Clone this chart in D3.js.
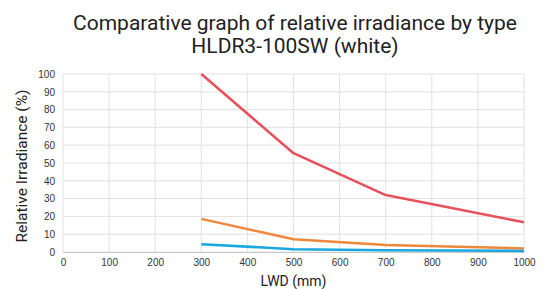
<!DOCTYPE html>
<html>
<head>
<meta charset="utf-8">
<script src="https://cdn.jsdelivr.net/npm/d3@7"></script>
<style>
  body { margin: 0; background: #fff; }
  svg { display: block; font-family: Roboto, "Noto Sans", sans-serif; }
</style>
</head>
<body>
<div id="chart"></div>
<script>
// data
const lwd = [300, 500, 700, 1000];
const seriesRed = [100, 55.5, 32, 16.7];
const seriesOrange = [18.6, 7.2, 3.9, 2.0];
const seriesBlue = [4.4, 1.6, 1.0, 0.6];
const xTicks = [0, 100, 200, 300, 400, 500, 600, 700, 800, 900, 1000];
const yTicks = [0, 10, 20, 30, 40, 50, 60, 70, 80, 90, 100];

const series = [
  { values: seriesOrange, color: "#f0883c" },
  { values: seriesBlue, color: "#19a7e0" },
  { values: seriesRed, color: "#e8505b" },
];

const width = 552, height = 289;
const margin = { left: 63, right: 28, top: 74, bottom: 37 };

const svg = d3.select("#chart").append("svg")
  .attr("width", width)
  .attr("height", height);

const x = d3.scaleLinear().domain([0, 1000]).range([margin.left, width - margin.right]);
const y = d3.scaleLinear().domain([0, 100]).range([height - margin.bottom, margin.top]);

// 网格线
svg.append("g")
  .selectAll("line.v")
  .data(xTicks)
  .enter().append("line")
  .attr("x1", d => x(d)).attr("x2", d => x(d))
  .attr("y1", y(0)).attr("y2", y(100))
  .attr("stroke", "#e2e2e2").attr("stroke-width", 1);

svg.append("g")
  .selectAll("line.h")
  .data(yTicks)
  .enter().append("line")
  .attr("x1", x(0)).attr("x2", x(1000))
  .attr("y1", d => y(d)).attr("y2", d => y(d))
  .attr("stroke", "#e2e2e2").attr("stroke-width", 1);

// 坐标轴
const xAxis = svg.append("g")
  .attr("transform", `translate(0,${y(0)})`)
  .call(d3.axisBottom(x).tickValues(xTicks).tickFormat(d3.format("d")).tickSize(0).tickPadding(7));
xAxis.select(".domain").attr("stroke", "#c8c8c8");
xAxis.selectAll("text").attr("fill", "#333").style("font-size", "10px");

const yAxis = svg.append("g")
  .attr("transform", `translate(${x(0)},0)`)
  .call(d3.axisLeft(y).tickValues(yTicks).tickSize(0).tickPadding(8));
yAxis.select(".domain").remove();
yAxis.selectAll("text").attr("fill", "#333").style("font-size", "10px");

// 折线
const line = d3.line()
  .x((d, i) => x(lwd[i]))
  .y(d => y(d));

svg.append("g")
  .selectAll("path")
  .data(series)
  .enter().append("path")
  .attr("d", d => line(d.values))
  .attr("fill", "none")
  .attr("stroke", d => d.color)
  .attr("stroke-width", 2.5)
  .attr("stroke-linejoin", "round");

// 标题
svg.append("text")
  .attr("x", 295).attr("y", 30)
  .attr("text-anchor", "middle")
  .attr("fill", "#222")
  .style("font-size", "21px")
  .text("Comparative graph of relative irradiance by type");
svg.append("text")
  .attr("x", 295).attr("y", 53)
  .attr("text-anchor", "middle")
  .attr("fill", "#222")
  .style("font-size", "21px")
  .text("HLDR3-100SW (white)");

// 轴标题
svg.append("text")
  .attr("x", (x(0) + x(1000)) / 2).attr("y", 286)
  .attr("text-anchor", "middle")
  .attr("fill", "#222")
  .style("font-size", "14px")
  .text("LWD (mm)");

svg.append("text")
  .attr("transform", `translate(27,${(y(0) + y(100)) / 2 + 3}) rotate(-90)`)
  .attr("text-anchor", "middle")
  .attr("fill", "#222")
  .style("font-size", "15.5px")
  .text("Relative Irradiance (%)");
</script>
</body>
</html>
